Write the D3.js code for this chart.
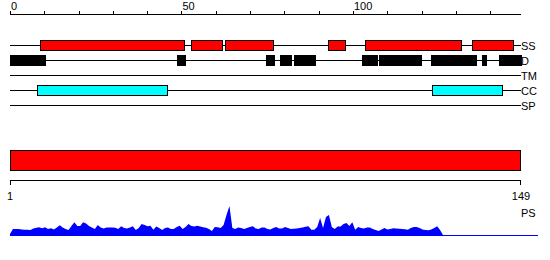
<!DOCTYPE html>
<html>
<head>
<meta charset="utf-8">
<script src="https://cdn.jsdelivr.net/npm/d3@7"></script>
<style>
  html, body { margin: 0; padding: 0; background: #fff; }
  svg { display: block; }
  text { font-family: "Liberation Sans", Arial, sans-serif; font-size: 11px; fill: #000; }
</style>
</head>
<body>
<svg id="chart" width="550" height="260"></svg>
<script>
  // Sequence length and feature tracks (positions in residues)
  const seqLength = 149;
  const trackNames = ['SS', 'D', 'TM', 'CC', 'SP'];
  const ssSegments = [[8.8, 50.8], [52.9, 61.9], [62.8, 76.8], [92.8, 97.7], [103.6, 131.5], [134.8, 146.8]];
  const dSegments = [[0, 10.1], [48.7, 51], [74.6, 77], [78.7, 82], [82.9, 88.9], [102.7, 106.9], [107.6, 119.8], [122.8, 135.8], [137.6, 138.8], [142.6, 149]];
  const tmSegments = [];
  const ccSegments = [[8, 45.9], [123, 143.5]];
  const spSegments = [];
  const topTicks = [0, 10, 20, 30, 40, 50, 60, 70, 80, 90, 100, 110, 120, 130, 140];
  const topTickLabels = [0, 50, 100];
  const bottomTickLabels = [1, 149];

  // Per-residue profile score (PS)
  const psValues = [
    1, 6, 6, 6, 5.5, 5.3, 5.3, 5, 6.5, 7.3,
    7.7, 6.7, 7.7, 6, 6.7, 5.5, 7.5, 9.7, 7.5, 6,
    5, 9, 12.7, 9, 9, 12.7, 11.5, 9, 7.5, 6,
    10, 7.5, 6.5, 7.5, 7.5, 7.5, 7.3, 6, 8.7, 7,
    6.5, 7.5, 8.7, 5, 7, 11, 10, 8.7, 9.3, 5.3,
    8.5, 7, 5, 7, 7.5, 6, 6, 8, 9.3, 6,
    8, 11, 9, 8.5, 9.3, 8.5, 7.7, 7.2, 6, 4,
    8, 7.8, 7, 10, 20, 29, 7, 6, 7.5, 7,
    6, 7, 8, 8.7, 6.5, 6, 7.5, 7.5, 6, 5.5,
    7, 8, 6.5, 6.5, 8, 7, 6, 6.3, 6.6, 7,
    7.6, 8.2, 8.7, 5.3, 5.3, 8, 17, 7, 18, 20,
    8, 6, 8.5, 8.5, 11, 12, 9, 12.7, 5.3, 8,
    7, 6.5, 7.5, 7.5, 6, 5, 4, 5.5, 7, 5.5,
    6, 6.7, 6.5, 6.2, 6, 5.7, 5.3, 7, 8, 8,
    7, 5.5, 5, 4.8, 5.5, 7, 8.7, 5, 0
  ];

  const svg = d3.select('#chart').attr('shape-rendering', 'crispEdges');

  const x = d3.scaleLinear().domain([0, seqLength]).range([10, 521]);
  const trackY = d3.scalePoint().domain(trackNames).range([45, 105]);
  const segmentsByTrack = { SS: ssSegments, D: dSegments, TM: tmSegments, CC: ccSegments, SP: spSegments };
  const trackColor = { SS: '#ff0000', D: '#000000', TM: '#000000', CC: '#00ffff', SP: '#000000' };

  // Top ruler
  const ruler = svg.append('g');
  ruler.append('line')
    .attr('x1', x(0)).attr('x2', x(seqLength))
    .attr('y1', 14.5).attr('y2', 14.5)
    .attr('stroke', '#000');
  ruler.selectAll('.tick').data(topTicks).enter().append('line')
    .attr('x1', d => Math.round(x(d)) + 0.5).attr('x2', d => Math.round(x(d)) + 0.5)
    .attr('y1', 11).attr('y2', 14.5)
    .attr('stroke', '#000');
  ruler.selectAll('.lbl').data(topTickLabels).enter().append('text')
    .attr('x', d => x(d) + 1)
    .attr('y', 10)
    .text(d => d);

  // Feature tracks
  trackNames.forEach(name => {
    const y = trackY(name);
    const g = svg.append('g');
    g.append('line')
      .attr('x1', x(0)).attr('x2', x(seqLength))
      .attr('y1', y + 0.5).attr('y2', y + 0.5)
      .attr('stroke', '#000');
    g.selectAll('rect').data(segmentsByTrack[name]).enter().append('rect')
      .attr('x', d => Math.round(x(d[0])) + 0.5)
      .attr('width', d => Math.round(x(d[1])) - Math.round(x(d[0])))
      .attr('y', y - 4.5)
      .attr('height', 10)
      .attr('fill', trackColor[name])
      .attr('stroke', '#000');
    g.append('text')
      .attr('x', x(seqLength))
      .attr('y', y + 5)
      .text(name);
  });

  // Full-length sequence bar and axis
  const xs = d3.scaleLinear().domain([1, seqLength]).range([10, 521]);
  svg.append('rect')
    .attr('x', xs(1) + 0.5).attr('width', xs(seqLength) - xs(1) - 1)
    .attr('y', 150.5).attr('height', 20)
    .attr('fill', '#ff0000')
    .attr('stroke', '#000');
  svg.append('line')
    .attr('x1', xs(1)).attr('x2', xs(seqLength))
    .attr('y1', 180.5).attr('y2', 180.5)
    .attr('stroke', '#000');
  svg.selectAll('.btick').data(bottomTickLabels).enter().append('line')
    .attr('x1', d => Math.round(xs(d)) + 0.5 - (d === seqLength ? 1 : 0))
    .attr('x2', d => Math.round(xs(d)) + 0.5 - (d === seqLength ? 1 : 0))
    .attr('y1', 180.5).attr('y2', 185)
    .attr('stroke', '#000');
  svg.selectAll('.blbl').data(bottomTickLabels).enter().append('text')
    .attr('x', d => xs(d))
    .attr('y', 200)
    .attr('text-anchor', 'middle')
    .text(d => d);
  svg.append('text')
    .attr('x', 521).attr('y', 217)
    .text('PS');

  // PS profile
  const xp = d3.scaleLinear().domain([1, seqLength]).range([10, 443]);
  const yp = d3.scaleLinear().domain([0, 30]).range([235, 205]);
  svg.append('path')
    .datum(psValues)
    .attr('shape-rendering', 'auto')
    .attr('fill', '#0000ff')
    .attr('d', d3.area()
      .x((d, i) => xp(i + 1))
      .y0(yp(0))
      .y1(d => yp(d)));
  svg.append('line')
    .attr('x1', 10).attr('x2', 538)
    .attr('y1', 235.5).attr('y2', 235.5)
    .attr('stroke', '#0000ff');
</script>
</body>
</html>
